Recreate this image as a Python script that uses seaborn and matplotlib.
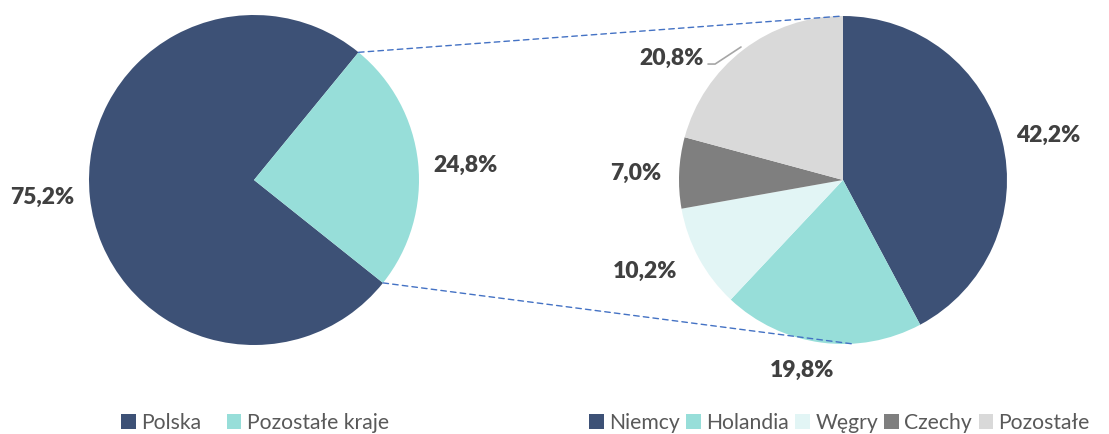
import numpy as np
import matplotlib
matplotlib.use("Agg")
import matplotlib.pyplot as plt
import seaborn as sns
from matplotlib.patches import ConnectionPatch

sns.set_style("white")
plt.rcParams['font.family'] = ['Lato', 'DejaVu Sans']

# dane
main_labels = ["Polska", "Pozostałe kraje"]
main_values = [75.2, 24.8]
main_texts = ["75,2%", "24,8%"]

sub_labels = ["Niemcy", "Holandia", "Węgry", "Czechy", "Pozostałe"]
sub_values = [42.2, 19.8, 10.2, 7.0, 20.8]
sub_texts = ["42,2%", "19,8%", "10,2%", "7,0%", "20,8%"]

main_colors = ["#3d5176", "#97ded9"]
sub_colors = ["#3d5176", "#97ded9", "#e2f5f5", "#7f7f7f", "#d9d9d9"]
label_color = "#404040"

W, H = 1109, 434
fig = plt.figure(figsize=(W / 100, H / 100), dpi=100)

ax1 = fig.add_axes([89 / W, (H - 345) / H, 330 / W, 330 / H])
ax2 = fig.add_axes([679 / W, (H - 344) / H, 328 / W, 328 / H])

w1, _ = ax1.pie(main_values, colors=main_colors, startangle=50.7,
                counterclock=True, wedgeprops=dict(linewidth=0))
w2, _ = ax2.pie(sub_values, colors=sub_colors, startangle=90,
                counterclock=False, wedgeprops=dict(linewidth=0))

for ax in (ax1, ax2):
    ax.set_xlim(-1, 1)
    ax.set_ylim(-1, 1)
    ax.set_aspect("equal")
    ax.axis("off")

# etykiety (pozycje jak w Excelu)
main_pos = [(-1.285, -0.103), (1.279, 0.091)]
for t, (x, y) in zip(main_texts, main_pos):
    ax1.text(x, y, t, ha="center", va="center", fontsize=16.5,
             fontweight="heavy", color=label_color)

sub_pos = [(1.25, 0.274), (-0.25, -1.159), (-1.207, -0.555),
           (-1.262, 0.043), (-1.043, 0.744)]
for t, (x, y) in zip(sub_texts, sub_pos):
    ax2.text(x, y, t, ha="center", va="center", fontsize=16.5,
             fontweight="heavy", color=label_color)

# linia odniesienia dla 20,8%
ax2.plot([-0.823, -0.78, -0.622], [0.707, 0.707, 0.811], color="#a6a6a6",
         lw=1.2, clip_on=False)

# linie łączące
wz = w1[1]
for ang, tgt in [(wz.theta2, (0, 1)),
                 (wz.theta1, (np.cos(np.radians(-87)), np.sin(np.radians(-87))))]:
    p = (np.cos(np.radians(ang)), np.sin(np.radians(ang)))
    con = ConnectionPatch(xyA=p, coordsA=ax1.transData, xyB=tgt,
                          coordsB=ax2.transData, color="#4472c4",
                          linestyle=(0, (4, 3)), lw=1)
    fig.add_artist(con)

# legendy
leg_kw = dict(loc="center left", frameon=False, ncol=5, fontsize=15.2,
              handlelength=0.7, handleheight=0.7, handletextpad=0.25,
              labelcolor="#595959", borderaxespad=0, borderpad=0)
fig.legend(w1, main_labels, bbox_to_anchor=(121 / W, 1 - 423 / H),
           columnspacing=1.2, **leg_kw)
fig.legend(w2, sub_labels, bbox_to_anchor=(589 / W, 1 - 423 / H),
           columnspacing=0.3, **leg_kw)

fig.savefig("out.png", dpi=100)
